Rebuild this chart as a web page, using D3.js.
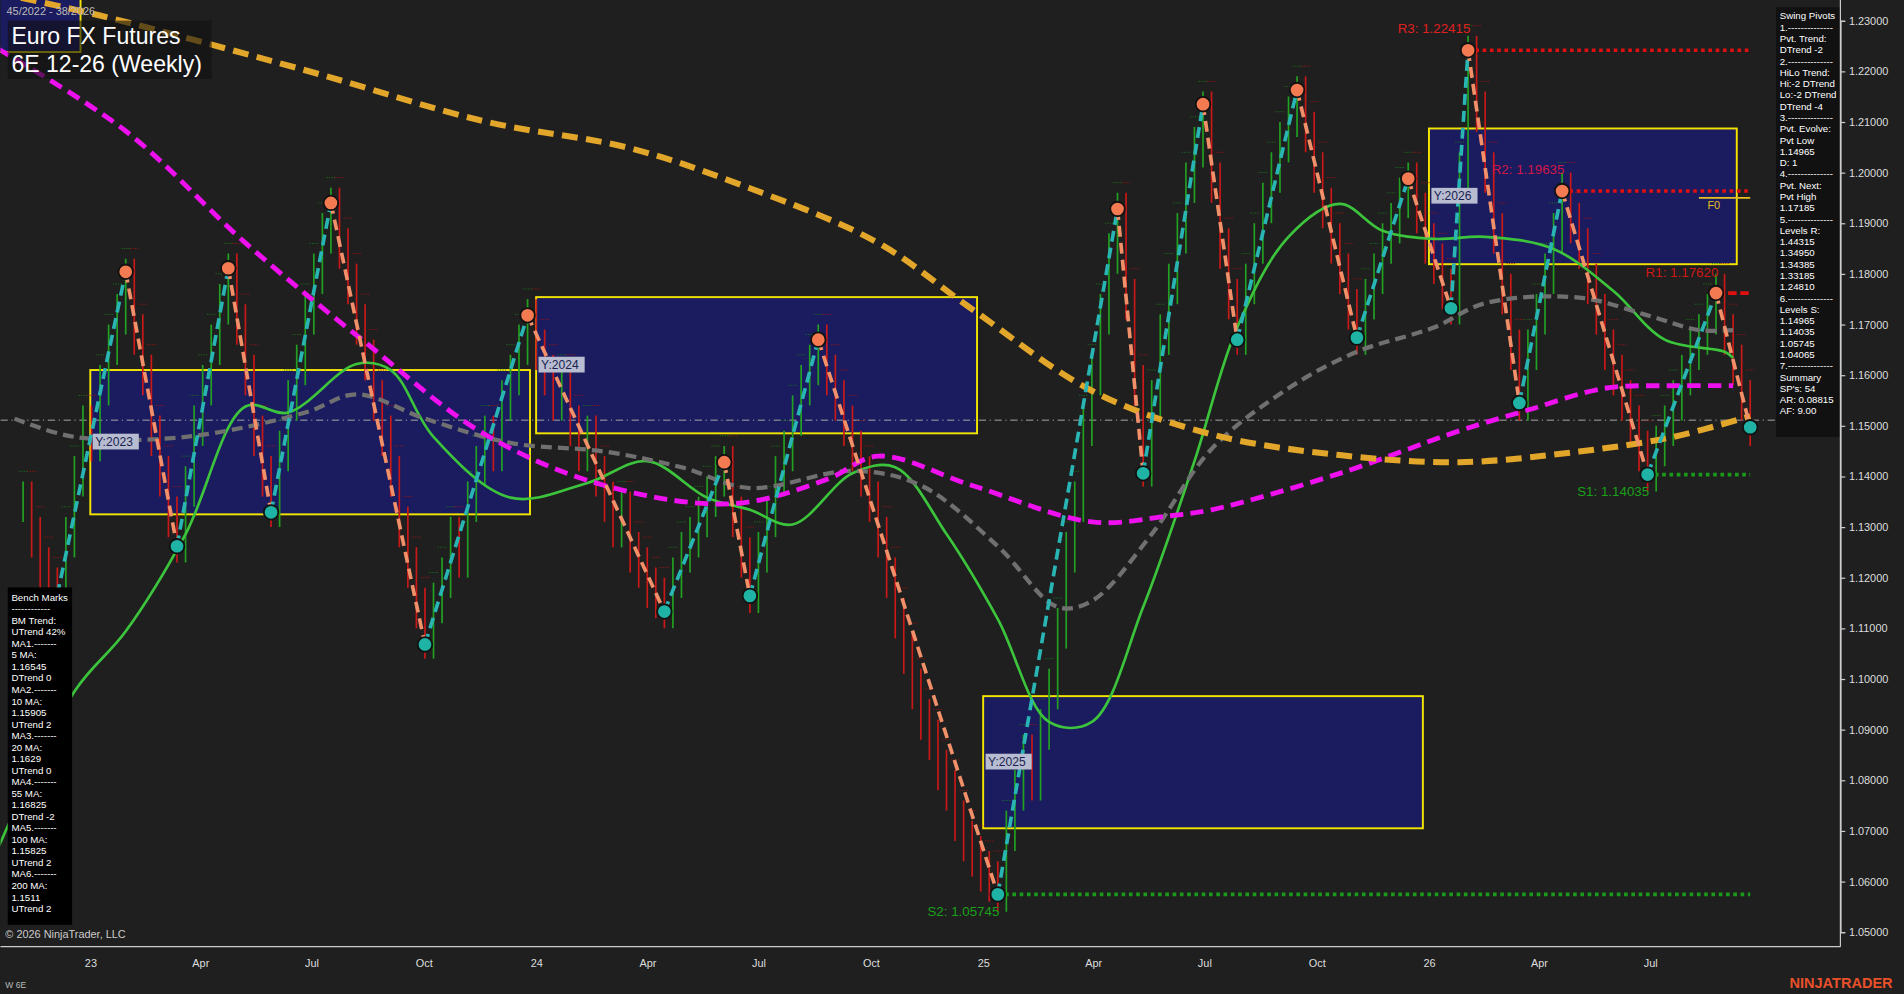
<!DOCTYPE html>
<html><head><meta charset="utf-8">
<script src="https://cdn.jsdelivr.net/npm/d3@7"></script>
<style>html,body{margin:0;background:#1f1f1f;overflow:hidden}svg{display:block}text{font-family:Arial,"Liberation Sans",sans-serif}</style>
</head><body><svg id="c" width="1904" height="994" viewBox="0 0 1568 819"></svg>
<script>
// ---- data (week index: 0 = week 45/2022) ----
const closes = [1.135,1.128,1.122,1.118,1.117,
1.128,1.140,1.150,1.147,1.158,1.166,1.172,1.179,
1.168,1.160,1.148,1.140,1.132,1.127,
1.138,1.150,1.158,1.166,1.174,1.180,
1.170,1.160,1.148,1.140,1.134,
1.145,1.155,1.162,1.172,1.180,1.188,1.193,
1.185,1.178,1.170,1.163,1.155,1.148,1.140,1.130,1.122,1.114,1.108,
1.115,1.120,1.128,1.124,1.135,1.142,1.148,1.145,1.155,1.160,1.166,1.171,
1.165,1.160,1.155,1.158,1.150,1.145,1.148,1.140,1.135,1.130,1.133,1.125,1.122,1.118,1.116,1.114,
1.120,1.125,1.128,1.132,1.136,1.140,1.142,
1.132,1.124,1.117,
1.125,1.132,1.140,1.145,1.152,1.158,1.162,1.166,
1.160,1.155,1.150,1.145,1.140,1.135,1.128,1.120,1.112,1.105,1.098,1.092,1.088,1.082,1.078,1.072,1.068,1.065,1.062,1.060,1.058,
1.070,1.078,1.085,1.080,1.090,1.098,1.110,1.125,1.135,1.150,1.160,1.172,1.184,1.192,
1.175,1.158,1.142,
1.155,1.168,1.178,1.188,1.198,1.205,1.212,
1.198,1.185,1.175,1.168,
1.178,1.186,1.194,1.200,1.206,1.211,1.215,
1.208,1.200,1.193,1.186,1.180,1.173,1.168,
1.175,1.180,1.186,1.190,1.195,1.198,
1.192,1.186,1.182,1.177,1.174,
1.200,1.223,
1.212,1.200,1.188,1.176,1.165,1.155,
1.165,1.172,1.180,1.188,1.196,
1.190,1.185,1.178,1.172,1.165,1.160,1.155,1.150,1.145,1.141,
1.146,1.150,1.155,1.160,1.165,1.168,1.172,1.176,
1.168,1.162,1.155,1.150];
const pivotWeeks = [4,12,18,24,29,36,47,59,75,82,85,93,114,128,131,138,142,149,156,162,167,169,175,180,190,198,202];
const pivotPrices = [1.1166,1.1804,1.1262,1.1811,1.1329,1.1940,1.1068,1.1718,1.1133,1.1428,1.1164,1.1670,1.05745,1.1928,1.1406,1.2135,1.1670,1.2163,1.1674,1.1988,1.1732,1.22415,1.1545,1.19635,1.14035,1.1762,1.1497];
const ma200W = [-3,9,33,54,71,85,100,111,125,139,154,168,182,193,202];
const ma200P = [1.2355,1.2310,1.2202,1.2101,1.2048,1.1969,1.1861,1.1730,1.1569,1.1483,1.1442,1.1428,1.1449,1.1478,1.1519];
const ma100W = [-3,12,26,40,54,68,83,94,100,111,125,134,139,154,168,176,185,193,200];
const ma100P = [1.2245,1.2082,1.1861,1.1665,1.1483,1.1382,1.1346,1.1394,1.1440,1.1382,1.1310,1.1322,1.1334,1.1406,1.1490,1.1531,1.1574,1.1579,1.1579];
const ma55W = [-1,6,19,33,39,47,57,68,77,85,97,105,114,121,125,132,139,148,156,165,171,182,190,196,200];
const ma55P = [1.1514,1.1478,1.1478,1.1526,1.1562,1.1514,1.1466,1.1449,1.1418,1.1377,1.1411,1.1382,1.1262,1.1142,1.1154,1.1286,1.1454,1.1574,1.1646,1.1694,1.1742,1.1753,1.1718,1.1689,1.1689];
const ma20W = [-3,6,12,19,26,31,39,43,48,57,66,73,80,85,90,97,102,108,114,120,125,131,137,142,148,154,159,165,171,179,186,192,199,200];
const ma20P = [1.0663,1.0975,1.1094,1.1286,1.1538,1.1526,1.1622,1.1610,1.1478,1.1358,1.1387,1.1430,1.1358,1.1334,1.1305,1.1406,1.1418,1.1286,1.1118,1.0915,1.0915,1.1142,1.1430,1.1694,1.1873,1.1938,1.1885,1.1869,1.1873,1.1849,1.1766,1.1670,1.1646,1.1634];
const boxNames = ["","Y:2023","Y:2024","Y:2025","Y:2026"];
const boxStart = ["2022-09-20","2023-01-01","2024-01-01","2025-01-01","2026-01-01"];
const boxEnd = ["2022-12-24","2023-12-27","2024-12-27","2025-12-27","2026-09-10"];
const boxHi = [1.2400,1.1610,1.1754,1.0966,1.2087];
const boxLo = [1.2238,1.1325,1.1485,1.0705,1.1819];
const levelNames = ["R3: 1.22415","R2: 1.19635","R1: 1.17620","S1: 1.14035","S2: 1.05745"];
const levelVals = [1.22415,1.19635,1.17620,1.14035,1.05745];
const levelStartW = [169,180,198,190,114];
const yTicks = d3.range(105,124).map(v=>v/100);
const xTickDates = ["2023-01-01","2023-04-01","2023-07-01","2023-10-01","2024-01-01","2024-04-01","2024-07-01","2024-10-01","2025-01-01","2025-04-01","2025-07-01","2025-10-01","2026-01-01","2026-04-01","2026-07-01"];
const xTickLabels = ["23","Apr","Jul","Oct","24","Apr","Jul","Oct","25","Apr","Jul","Oct","26","Apr","Jul"];
const swingText = ["Swing Pivots","1.--------------","Pvt. Trend:","DTrend -2","2.--------------","HiLo Trend:","Hi:-2 DTrend","Lo:-2 DTrend","DTrend -4","3.--------------","Pvt. Evolve:","Pvt Low","1.14965","D: 1","4.--------------","Pvt. Next:","Pvt High","1.17185","5.--------------","Levels R:","1.44315","1.34950","1.34385","1.33185","1.24810","6.--------------","Levels S:","1.14965","1.14035","1.05745","1.04065","7.--------------","Summary","SP's: 54","AR: 0.08815","AF: 9.00"];
const benchText = ["Bench Marks","------------","BM Trend:","UTrend 42%","MA1.-------","5 MA:","1.16545","DTrend 0","MA2.-------","10 MA:","1.15905","UTrend 2","MA3.-------","20 MA:","1.1629","UTrend 0","MA4.-------","55 MA:","1.16825","DTrend -2","MA5.-------","100 MA:","1.15825","UTrend 2","MA6.-------","200 MA:","1.1511","UTrend 2"];

// ---- scales ----
const svg = d3.select("#c");
const P = d3.timeParse("%Y-%m-%d");
const x = d3.scaleTime().domain([P("2023-01-01"),P("2026-01-01")]).range([74,1177]);
const y = d3.scaleLinear().domain([1.05,1.23]).range([768,17]);
const t0 = P("2022-11-07");
const wd = i => d3.timeDay.offset(t0, Math.round(i*7));
const xw = i => x(wd(i));

svg.append("rect").attr("width",1568).attr("height",819).attr("fill","#1f1f1f");
const plot = svg.append("g");
plot.append("clipPath").attr("id","cp").append("rect").attr("width",1515).attr("height",780);
const g = plot.append("g").attr("clip-path","url(#cp)");

// boxes
boxNames.forEach((n,k)=>{
  const x0=x(P(boxStart[k])), x1=x(P(boxEnd[k]));
  g.append("rect").attr("x",x0).attr("y",y(boxHi[k])).attr("width",x1-x0).attr("height",y(boxLo[k])-y(boxHi[k]))
   .attr("fill","#1b1b6b").attr("fill-opacity",0.85).attr("stroke","#f2e400").attr("stroke-width",1.6);
});
// reference line
g.append("line").attr("x1",0).attr("x2",1515).attr("y1",y(1.1511)).attr("y2",y(1.1511)).attr("stroke","#aaa").attr("stroke-width",0.8).attr("stroke-dasharray","6,3,1,3");

// bars
closes.forEach((c,i)=>{
  const p = i? closes[i-1]:c;
  const up = c>=p;
  g.append("line").attr("x1",xw(i)).attr("x2",xw(i)).attr("y1",y(Math.max(c,p)+0.004)).attr("y2",y(Math.min(c,p)-0.004))
   .attr("stroke",up?"#22a022":"#c81818").attr("stroke-width",1.4);
  g.append("line").attr("x1",xw(i)-3.5).attr("x2",xw(i)+3.5).attr("y1",y(Math.max(c,p)+0.006)).attr("y2",y(Math.max(c,p)+0.006))
   .attr("stroke",up?"#1a7a1a":"#a01414").attr("stroke-width",0.7).attr("stroke-dasharray","1,1");
});

// MAs
const mk = (W,Pr)=>W.map((w,k)=>[xw(w),y(Pr[k])]);
const ln = d3.line().curve(d3.curveCatmullRom.alpha(0.5));
g.append("path").attr("d",ln(mk(ma20W,ma20P))).attr("fill","none").attr("stroke","#3cc43c").attr("stroke-width",2.2);
g.append("path").attr("d",ln(mk(ma55W,ma55P))).attr("fill","none").attr("stroke","#707070").attr("stroke-width",3.5).attr("stroke-dasharray","9,5");
g.append("path").attr("d",ln(mk(ma100W,ma100P))).attr("fill","none").attr("stroke","#ee10ee").attr("stroke-width",4).attr("stroke-dasharray","11,6");
g.append("path").attr("d",ln(mk(ma200W,ma200P))).attr("fill","none").attr("stroke","#e2a62a").attr("stroke-width",5).attr("stroke-dasharray","13,7");

// levels
const lvCol = ["#e01010","#e01010","#e01010","#1a9a1a","#1a9a1a"];
const lvTxt = ["#e02020","#d01848","#d01818","#1aa01a","#1aa01a"];
levelVals.forEach((v,k)=>{
  g.append("line").attr("x1",xw(levelStartW[k])).attr("x2",xw(202)).attr("y1",y(v)).attr("y2",y(v))
   .attr("stroke",lvCol[k]).attr("stroke-width",3).attr("stroke-dasharray",k==2?"7,3":"3,3");
});
g.append("line").attr("x1",xw(196)).attr("x2",xw(202)).attr("y1",y(1.1950)).attr("y2",y(1.1950)).attr("stroke","#e6c020").attr("stroke-width",1.5);
g.append("text").attr("x",xw(197)).attr("y",y(1.1950)+9).attr("fill","#e6c020").attr("font-size",9).text("F0");
const lvLab = [[-58,-14],[-58,-14],[-58,-13],[-58,18],[-58,18]];
levelVals.forEach((v,k)=>{
  g.append("text").attr("x",xw(levelStartW[k])+lvLab[k][0]).attr("y",y(v)+lvLab[k][1]).attr("fill",lvTxt[k]).attr("font-size",11).text(levelNames[k]);
});

// zigzag
for(let k=0;k<pivotWeeks.length-1;k++){
  const up = pivotPrices[k+1]>pivotPrices[k];
  g.append("line").attr("x1",xw(pivotWeeks[k])).attr("y1",y(pivotPrices[k])).attr("x2",xw(pivotWeeks[k+1])).attr("y2",y(pivotPrices[k+1]))
   .attr("stroke",up?"#2ab5b5":"#f2906a").attr("stroke-width",3).attr("stroke-dasharray","9,5");
}
pivotWeeks.forEach((w,k)=>{
  if(k===0) return;
  const hi = k+1<pivotWeeks.length ? pivotPrices[k]>pivotPrices[k+1] : pivotPrices[k]>pivotPrices[k-1];
  g.append("circle").attr("cx",xw(w)).attr("cy",y(pivotPrices[k])).attr("r",6)
   .attr("fill",hi?"#f47a52":"#1fb3a6").attr("stroke","#111").attr("stroke-width",1.5);
});

// box labels
boxNames.forEach((n,k)=>{
  if(!n) return;
  const bx=x(P(boxStart[k]))+2, by=(y(boxHi[k])+y(boxLo[k]))/2;
  g.append("rect").attr("x",bx).attr("y",by-7).attr("width",38).attr("height",13).attr("fill","#b8bcd0");
  g.append("text").attr("x",bx+2).attr("y",by+3).attr("fill","#1a1f50").attr("font-size",10).text(n);
});

// axes
const ya = svg.append("g").attr("transform","translate(1516,0)").call(d3.axisRight(y).tickValues(yTicks).tickFormat(d3.format(".5f")).tickSize(4));
ya.select(".domain").attr("stroke","#ccc");
ya.selectAll("line").attr("stroke","#ccc");
ya.selectAll("text").attr("fill","#ddd").attr("font-size",9).attr("font-family","Arial");
svg.append("line").attr("x1",1516).attr("x2",1516).attr("y1",0).attr("y2",780).attr("stroke","#ccc");
const xa = svg.append("g").attr("transform","translate(0,780)").call(d3.axisBottom(x).tickValues(xTickDates.map(P)).tickFormat((d,i)=>xTickLabels[i]).tickSize(0).tickPadding(10));
xa.select(".domain").attr("stroke","#ccc").attr("d","M0,0H1516");
xa.selectAll("text").attr("fill","#ddd").attr("font-size",9).attr("font-family","Arial");

// title
svg.append("text").attr("x",5).attr("y",12).attr("fill","#bbb").attr("font-size",9).text("45/2022 - 38/2026");
svg.append("rect").attr("x",6).attr("y",17).attr("width",168).attr("height",48).attr("fill","#111").attr("fill-opacity",0.6);
svg.append("text").attr("x",9).attr("y",36).attr("fill","#fff").attr("font-size",19).text("Euro FX Futures");
svg.append("text").attr("x",9).attr("y",59).attr("fill","#fff").attr("font-size",19).text("6E 12-26 (Weekly)");

// panels
svg.append("rect").attr("x",1463).attr("y",6).attr("width",52).attr("height",354).attr("fill","#111");
swingText.forEach((t,i)=>svg.append("text").attr("x",1466).attr("y",16+i*9.3).attr("fill","#fff").attr("font-size",8).text(t));
svg.append("rect").attr("x",6).attr("y",484).attr("width",53).attr("height",278).attr("fill","#000");
benchText.forEach((t,i)=>svg.append("text").attr("x",9).attr("y",495+i*9.5).attr("fill","#fff").attr("font-size",8).text(t));
svg.append("text").attr("x",4).attr("y",773).attr("fill","#ccc").attr("font-size",9).text("© 2026 NinjaTrader, LLC");
svg.append("text").attr("x",4).attr("y",814).attr("fill","#bbb").attr("font-size",7).text("W 6E");
svg.append("text").attr("x",1474).attr("y",814).attr("fill","#e8502a").attr("font-size",12).attr("font-weight","bold").text("NINJATRADER");
</script></body></html>
